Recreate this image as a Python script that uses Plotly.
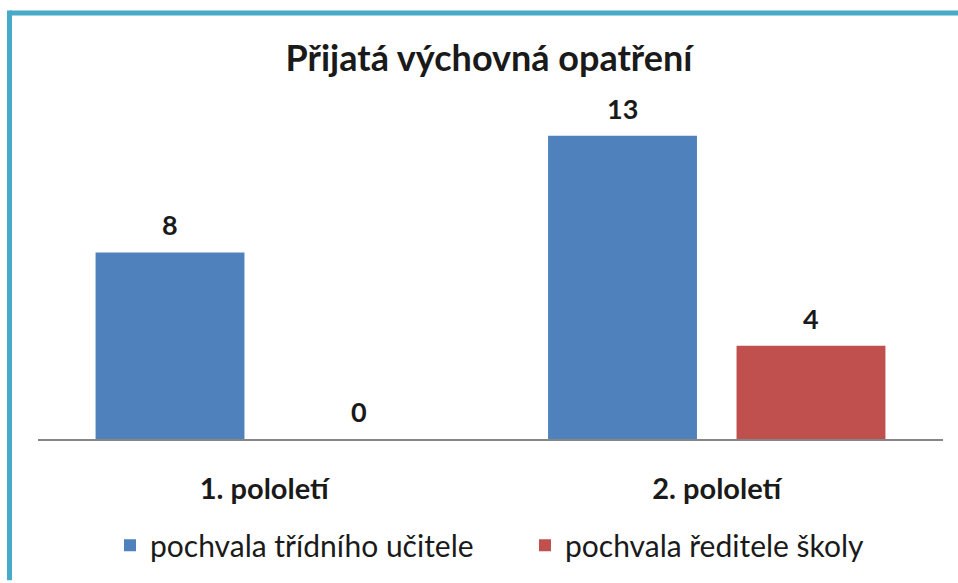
import plotly.graph_objects as go

categories = ["1. pololetí", "2. pololetí"]
series_names = ["pochvala třídního učitele", "pochvala ředitele školy"]
teacher = [8, 13]
principal = [0, 4]
colors = ["#4F81BD", "#C0504D"]

FONT = "Lato, 'Open Sans', sans-serif"
TXT = "#1a1a1a"

W, H = 958, 583
ml, mr, mt, mb = 38, 15, 100, 142
pw, ph = W - ml - mr, H - mt - mb

def px_x(x):
    return (x - ml) / pw

def px_y(y):
    return (H - mb - y) / ph

fig = go.Figure()
for name, vals, col in zip(series_names, [teacher, principal], colors):
    fig.add_trace(go.Bar(x=categories, y=vals, name=name,
                         marker=dict(color=col, line=dict(width=0))))

slot_half = 94.25
annotations = []
for i, vals in enumerate([teacher, principal]):
    shift = -slot_half if i == 0 else slot_half
    for c, v in zip(categories, vals):
        annotations.append(dict(x=c, y=v, xref="x", yref="y", text=f"<b>{v}</b>", showarrow=False,
                                xshift=shift, yanchor="bottom", yshift=9,
                                font=dict(family=FONT, size=27, color=TXT)))

shapes = [
    dict(type="line", xref="paper", yref="paper", x0=px_x(9.5), x1=px_x(958), y0=px_y(12.5), y1=px_y(12.5),
         line=dict(color="#46AAC8", width=5)),
    dict(type="line", xref="paper", yref="paper", x0=px_x(9.5), x1=px_x(9.5), y0=px_y(10), y1=px_y(583),
         line=dict(color="#46AAC8", width=5)),
]

fig.update_layout(
    width=W, height=H,
    margin=dict(l=ml, r=mr, t=mt, b=mb),
    paper_bgcolor="white", plot_bgcolor="white",
    title=dict(text="<b>Přijatá výchovná opatření</b>", x=489 / W, xanchor="center", y=1 - 58 / H, yanchor="middle",
               font=dict(family=FONT, size=36, color=TXT)),
    barmode="group", bargap=0.167, bargroupgap=0.21,
    showlegend=True,
    legend=dict(orientation="h", x=px_x(110), xanchor="left", y=px_y(548), yanchor="middle",
                font=dict(family=FONT, size=30, color=TXT), itemwidth=30,
                entrywidth=370, entrywidthmode="pixels",
                traceorder="normal", bgcolor="rgba(0,0,0,0)"),
    xaxis=dict(showline=True, linecolor="#868686", linewidth=1.5, ticks="", showgrid=False,
               tickfont=dict(family=FONT, size=29, color=TXT), ticklabelstandoff=23,
               tickvals=categories, ticktext=[f"<b>{c}</b>" for c in categories]),
    yaxis=dict(range=[0, 14.535], visible=False, showgrid=False, zeroline=False),
    shapes=shapes,
    annotations=annotations,
)

fig.write_html("out.html", config={"displayModeBar": False},
               post_script="document.body.style.margin='0';document.body.style.padding='0';")
